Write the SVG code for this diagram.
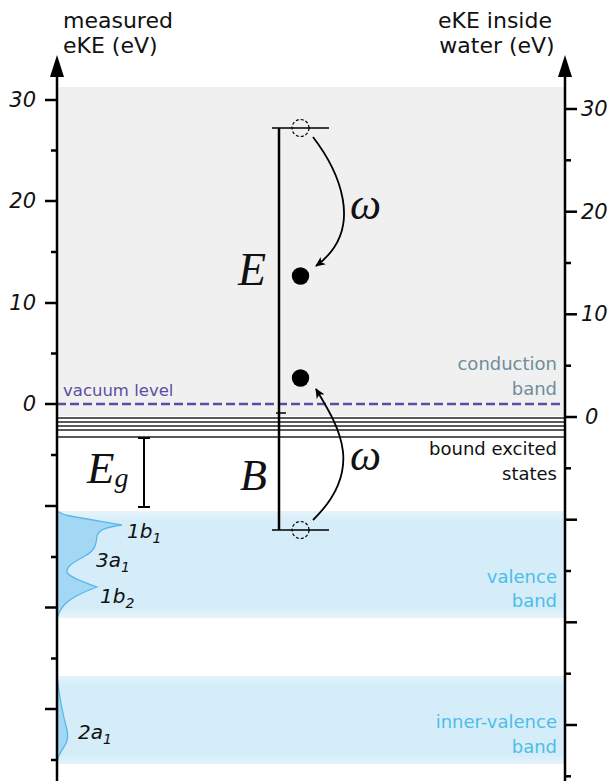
<svg xmlns="http://www.w3.org/2000/svg" width="611" height="781" viewBox="0 0 611 781">
<style>
.ax{stroke:#000;stroke-width:2.5;fill:none}
.tk{stroke:#000;stroke-width:2.5}
.tl{font-family:"DejaVu Sans",sans-serif;font-style:italic;font-size:21px;fill:#111}
.hd{font-family:"DejaVu Sans",sans-serif;font-size:22px;fill:#111}
.lb{font-family:"DejaVu Sans",sans-serif;font-size:18px;text-anchor:end}
.mo{font-family:"DejaVu Sans",sans-serif;font-style:italic;font-size:20px;fill:#111}
.mt{font-family:"Liberation Serif","DejaVu Serif",serif;font-style:italic;fill:#111}
.bs{stroke:#222;stroke-width:1.4}
.dos{fill:#a2d8f4;stroke:#5cb6ea;stroke-width:1.3}
.conn{stroke:#000;stroke-width:1.8;fill:none}
</style>
<defs>
<linearGradient id="band" x1="0" y1="0" x2="0" y2="1">
<stop offset="0" stop-color="#e6f4fb"/>
<stop offset="0.1" stop-color="#d5edf8"/>
<stop offset="0.9" stop-color="#d5edf8"/>
<stop offset="1" stop-color="#e6f4fb"/>
</linearGradient>
<marker id="ah" viewBox="0 0 10 10" refX="9" refY="5" markerWidth="10" markerHeight="10" markerUnits="userSpaceOnUse" orient="auto">
<path d="M0,0.5 L10,5 L0,9.5 L2.5,5 Z" fill="#000"/>
</marker>
</defs>

<g id="backgrounds">
<rect x="57" y="87" width="508" height="329" fill="#f0f0f0"/>
<rect x="57" y="511" width="508" height="107" fill="url(#band)"/>
<rect x="57" y="676" width="508" height="88" fill="url(#band)"/>
</g>

<g id="bound-states">
<line class="bs" x1="57" y1="418" x2="565" y2="418"/>
<line class="bs" x1="57" y1="422" x2="565" y2="422"/>
<line class="bs" x1="57" y1="426" x2="565" y2="426"/>
<line class="bs" x1="57" y1="430" x2="565" y2="430"/>
<line class="bs" x1="57" y1="437" x2="565" y2="437" stroke-width="1.8"/>
</g>

<g id="vacuum-level">
<line x1="57" y1="404" x2="565" y2="404" stroke="#5b4ea1" stroke-width="2.5" stroke-dasharray="9,4"/>
<text x="63" y="396" font-family="DejaVu Sans, sans-serif" font-size="16.5" fill="#5b4ea1">vacuum level</text>
</g>

<g id="dos">
<path class="dos" d="M57,511 C60,513 64,515 70,516 C85,519 105,522 122,525 C108,527 99,529 97,536 C96,544 96,550 85,556 C72,563 66,567 67,572 C69,578 85,582 97,587 C86,591 74,596 66,603 C61,608 59,612 57,618 Z"/>
<path class="dos" d="M57,676 C59,695 63,715 67,730 C69,740 66,744 62,750 C59,754 58,757 57,762 Z"/>
</g>

<g id="left-axis">
<line class="ax" x1="57" y1="72" x2="57" y2="781"/>
<path d="M57,55 L64,77 L50,77 Z" fill="#000"/>
<line class="tk" x1="45" y1="100" x2="57" y2="100"/>
<line class="tk" x1="51" y1="150.5" x2="57" y2="150.5"/>
<line class="tk" x1="45" y1="201" x2="57" y2="201"/>
<line class="tk" x1="51" y1="252" x2="57" y2="252"/>
<line class="tk" x1="45" y1="303" x2="57" y2="303"/>
<line class="tk" x1="51" y1="353.5" x2="57" y2="353.5"/>
<line class="tk" x1="45" y1="404" x2="57" y2="404"/>
<line class="tk" x1="51" y1="455" x2="57" y2="455"/>
<line class="tk" x1="45" y1="506" x2="57" y2="506"/>
<line class="tk" x1="51" y1="557" x2="57" y2="557"/>
<line class="tk" x1="45" y1="607.5" x2="57" y2="607.5"/>
<line class="tk" x1="51" y1="658.5" x2="57" y2="658.5"/>
<line class="tk" x1="45" y1="709" x2="57" y2="709"/>
<line class="tk" x1="51" y1="760" x2="57" y2="760"/>
<text class="tl" x="36" y="107" text-anchor="end">30</text>
<text class="tl" x="36" y="208" text-anchor="end">20</text>
<text class="tl" x="36" y="310" text-anchor="end">10</text>
<text class="tl" x="36" y="411" text-anchor="end">0</text>
<text class="hd" x="63" y="28">measured</text>
<text class="hd" x="63" y="53">eKE (eV)</text>
</g>

<g id="right-axis">
<line class="ax" x1="565" y1="72" x2="565" y2="781"/>
<path d="M565,55 L572,77 L558,77 Z" fill="#000"/>
<line class="tk" x1="565" y1="109" x2="577" y2="109"/>
<line class="tk" x1="565" y1="160.3" x2="571" y2="160.3"/>
<line class="tk" x1="565" y1="211.7" x2="577" y2="211.7"/>
<line class="tk" x1="565" y1="263" x2="571" y2="263"/>
<line class="tk" x1="565" y1="314.3" x2="577" y2="314.3"/>
<line class="tk" x1="565" y1="365.7" x2="571" y2="365.7"/>
<line class="tk" x1="565" y1="417" x2="577" y2="417"/>
<line class="tk" x1="565" y1="468.3" x2="571" y2="468.3"/>
<line class="tk" x1="565" y1="519.7" x2="577" y2="519.7"/>
<line class="tk" x1="565" y1="571" x2="571" y2="571"/>
<line class="tk" x1="565" y1="622.3" x2="577" y2="622.3"/>
<line class="tk" x1="565" y1="673.7" x2="571" y2="673.7"/>
<line class="tk" x1="565" y1="725" x2="577" y2="725"/>
<line class="tk" x1="565" y1="776.3" x2="571" y2="776.3"/>
<text class="tl" x="581" y="116">30</text>
<text class="tl" x="581" y="219">20</text>
<text class="tl" x="581" y="321">10</text>
<text class="tl" x="585" y="424">0</text>
<text class="hd" x="495" y="28" text-anchor="middle">eKE inside</text>
<text class="hd" x="497" y="53" text-anchor="middle">water (eV)</text>
</g>

<g id="band-labels">
<text class="lb" x="557" y="370" fill="#6f8d9b">conduction</text>
<text class="lb" x="557" y="395" fill="#6f8d9b">band</text>
<text class="lb" x="557" y="455" fill="#111">bound excited</text>
<text class="lb" x="557" y="480" fill="#111">states</text>
<text class="lb" x="557" y="583" fill="#4dbde9">valence</text>
<text class="lb" x="557" y="607" fill="#4dbde9">band</text>
<text class="lb" x="557" y="728" fill="#4dbde9">inner-valence</text>
<text class="lb" x="557" y="753" fill="#4dbde9">band</text>
</g>

<g id="orbital-labels">
<text class="mo" x="127" y="538">1b<tspan font-size="14" dy="5">1</tspan></text>
<text class="mo" x="96" y="567">3a<tspan font-size="14" dy="5">1</tspan></text>
<text class="mo" x="100" y="603">1b<tspan font-size="14" dy="5">2</tspan></text>
<text class="mo" x="78" y="739">2a<tspan font-size="14" dy="5">1</tspan></text>
</g>

<g id="gap">
<line x1="144" y1="438" x2="144" y2="507" stroke="#000" stroke-width="2"/>
<line x1="138" y1="438" x2="150" y2="438" stroke="#000" stroke-width="2"/>
<line x1="138" y1="507" x2="150" y2="507" stroke="#000" stroke-width="2"/>
<text class="mt" x="87" y="483" font-size="45">E<tspan font-size="28" dy="4">g</tspan></text>
</g>

<g id="energy-bar">
<line x1="279" y1="128" x2="279" y2="530" stroke="#000" stroke-width="2.5"/>
<line x1="272" y1="128" x2="329" y2="128" stroke="#000" stroke-width="1.6"/>
<line x1="272" y1="530" x2="329" y2="530" stroke="#000" stroke-width="1.6"/>
<line x1="276" y1="413" x2="286" y2="413" stroke="#000" stroke-width="1.5"/>
<text class="mt" x="238" y="285" font-size="46">E</text>
<text class="mt" x="240" y="490" font-size="44">B</text>
</g>

<g id="electrons">
<circle cx="300.5" cy="128" r="8.5" fill="none" stroke="#000" stroke-width="1.2" stroke-dasharray="3,2"/>
<circle cx="300.5" cy="530" r="8.5" fill="none" stroke="#000" stroke-width="1.2" stroke-dasharray="3,2"/>
<circle cx="300.5" cy="276" r="8.7" fill="#000"/>
<circle cx="300.5" cy="378" r="8.7" fill="#000"/>
</g>

<g id="connectors">
<path class="conn" d="M313,137 C336,167 368,228 316,266" marker-end="url(#ah)"/>
<path class="conn" d="M313,520 C366,468 338,426 316,389" marker-end="url(#ah)"/>
<text class="mt" x="350" y="219" font-size="44">ω</text>
<text class="mt" x="350" y="470" font-size="44">ω</text>
</g>
</svg>
